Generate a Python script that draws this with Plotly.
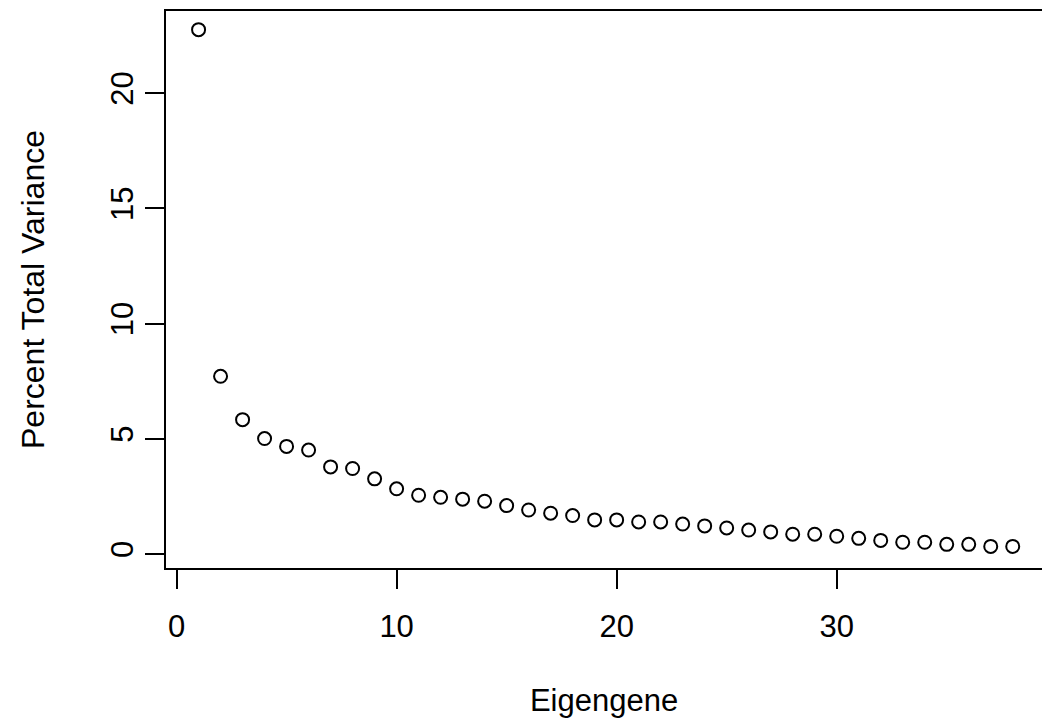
import plotly.graph_objects as go

eigengene = list(range(1, 39))
percent_variance = [22.75, 7.71, 5.83, 5.01, 4.67, 4.51, 3.78, 3.71, 3.26, 2.83,
                    2.55, 2.46, 2.38, 2.29, 2.10, 1.91, 1.77, 1.67, 1.48, 1.48,
                    1.39, 1.39, 1.30, 1.22, 1.13, 1.04, 0.96, 0.86, 0.86, 0.77,
                    0.68, 0.59, 0.51, 0.51, 0.42, 0.42, 0.33, 0.33]
x_ticks = [0, 10, 20, 30]
y_ticks = [0, 5, 10, 15, 20]

FONT = "Liberation Sans, Arial, sans-serif"

fig = go.Figure()
fig.add_trace(go.Scatter(
    x=eigengene, y=percent_variance, mode="markers",
    marker=dict(symbol="circle-open", size=13, color="black", line=dict(width=2, color="black")),
    showlegend=False, hoverinfo="x+y"))

fig.update_layout(
    width=1042, height=724,
    margin=dict(l=166, r=0, t=11, b=156),
    paper_bgcolor="white", plot_bgcolor="white",
    font=dict(family=FONT, size=31, color="black"),
    xaxis=dict(
        range=[-0.48, 39.33], tickvals=x_ticks, ticktext=[str(v) for v in x_ticks],
        showgrid=False, zeroline=False,
        showline=True, linecolor="black", linewidth=2, mirror=True,
        ticks="outside", ticklen=19, tickwidth=2, tickcolor="black",
        ticklabelstandoff=11,
        tickfont=dict(size=31, family=FONT, color="black"),
        title=dict(text="Eigengene", font=dict(size=31, family=FONT, color="black"), standoff=46),
    ),
    yaxis=dict(
        range=[-0.607, 23.56], tickvals=y_ticks, ticktext=[str(v) for v in y_ticks],
        showgrid=False, zeroline=False,
        showline=True, linecolor="black", linewidth=2, mirror=False,
        ticks="outside", ticklen=19, tickwidth=2, tickcolor="black",
        tickangle=-90,
        tickfont=dict(size=31, family=FONT, color="black"),
        title=dict(text="Percent Total Variance", font=dict(size=32, family=FONT, color="black"), standoff=50),
    ),
)

fig.write_html("out.html")
